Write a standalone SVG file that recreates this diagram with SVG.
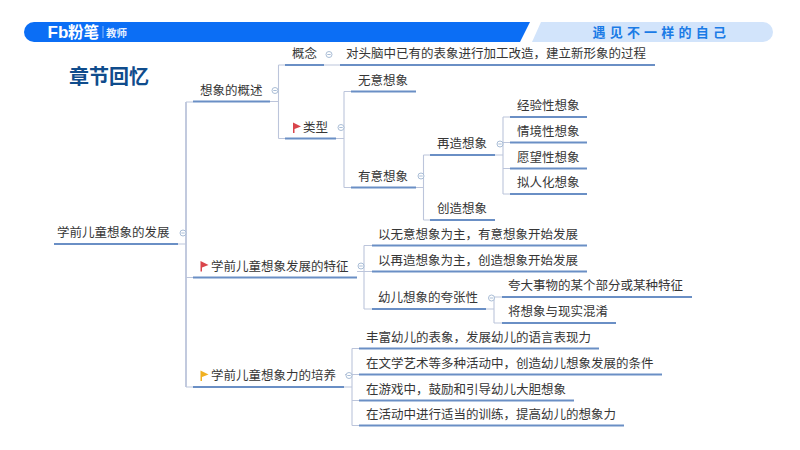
<svg xmlns="http://www.w3.org/2000/svg" width="800" height="450" viewBox="0 0 800 450">
<style>
text{font-family:"Noto Sans CJK SC","Liberation Sans",sans-serif;font-size:12.5px;fill:#363636}
.u{stroke:#6a8fc5;stroke-width:2;fill:none}
.c{stroke:#bcc5db;stroke-width:1.1;fill:none}
.t{stroke:#bcc5db;stroke-width:1.8;fill:none}
.m{fill:#fff;stroke:#a9bdd6;stroke-width:1}
.d{stroke:#a9bdd6;stroke-width:1}
</style>
<defs>
<g id="col"><circle class="m" r="3"/><line class="d" x1="-1.700" x2="1.700"/></g>
<polygon id="flag" points="0,-5 8,-1 1.500,1.500 1.500,5.500 0,5.500"/>
</defs>
<rect width="800" height="450" fill="#fff"/>
<g id="header">
<path d="M34 22H530L520 42H34A10 10 0 0 1 34 22Z" fill="#0b6ef5"/>
<path d="M541 22H763A10 10 0 0 1 763 42H532Z" fill="#d2e4fb"/>
<text x="47.500" y="38" style="font-family:'Liberation Sans',sans-serif;font-size:17px;font-weight:700;fill:#fff">Fb</text>
<text x="68" y="38" style="font-size:15.500px;font-weight:700;fill:#fff">粉笔</text>
<line x1="103" y1="26" x2="103" y2="38" stroke="#a9cbfb" stroke-width=".8"/>
<text x="106" y="36.500" style="font-size:10.500px;font-weight:700;fill:#e6f0ff">教师</text>
<text x="592.500" y="37" style="font-size:13px;font-weight:700;fill:#1a7be6;letter-spacing:4.200px">遇见不一样的自己</text>
</g>
<text id="title" x="69" y="84" style="font-size:20px;font-weight:700;fill:#0f4c8c">章节回忆</text>
<g id="connectors">
<path class="t" d="M186 102V387"/>
<path class="c" d="M178 244H186M186 102H193M186 277.500H193M186 387H193"/>
<path class="c" d="M270 101.500H278.500M278.500 65V138.500M278.500 65H285M278.500 138.500H285M324 65H340"/>
<path class="c" d="M336 138.500H344M344 91.500V187.500M344 91.500H351M344 187.500H351"/>
<path class="c" d="M416 187.500H423.500M423.500 155V220M423.500 155H430M423.500 220H430"/>
<path class="c" d="M495 155H503M503 117V194M503 117H510M503 142.500H510M503 168.500H510M503 194H510"/>
<path class="c" d="M357 271.500H364M364 245.500V309M364 245.500H372M364 271.500H372M364 309H372"/>
<path class="c" d="M486 309H494M494 297V323M494 297H502M494 323H502"/>
<path class="c" d="M344 387H352M352 348.500V425.500M352 348.500H359M345 374.500H359M352 400.500H359M352 425.500H359"/>
</g>
<g id="n-root"><text x="57" y="237.200">学前儿童想象的发展</text><line class="u" x1="54" y1="244" x2="178" y2="244"/><use href="#col" x="183" y="233"/></g>
<g id="n-overview"><text x="200" y="94.700">想象的概述</text><line class="u" x1="193" y1="101.500" x2="270" y2="101.500"/><use href="#col" x="275" y="90.500"/></g>
<g id="n-concept"><text x="292" y="58.200">概念</text><line class="u" x1="285" y1="65" x2="324" y2="65"/><use href="#col" x="329" y="54.500"/></g>
<g id="n-definition"><text x="346" y="58.200">对头脑中已有的表象进行加工改造，建立新形象的过程</text><line class="u" x1="340" y1="65" x2="655" y2="65"/></g>
<g id="n-types"><use href="#flag" x="293" y="127.500" fill="#d9454b"/><text x="303" y="131.700">类型</text><line class="u" x1="285" y1="138.500" x2="336" y2="138.500"/><use href="#col" x="341" y="127.500"/></g>
<g id="n-unintended"><text x="358" y="84.700">无意想象</text><line class="u" x1="351" y1="91.500" x2="416" y2="91.500"/></g>
<g id="n-intended"><text x="358" y="180.700">有意想象</text><line class="u" x1="351" y1="187.500" x2="416" y2="187.500"/><use href="#col" x="421" y="176"/></g>
<g id="n-recreate"><text x="437" y="148.200">再造想象</text><line class="u" x1="430" y1="155" x2="495" y2="155"/><use href="#col" x="500" y="144"/></g>
<g id="n-create"><text x="437" y="213.200">创造想象</text><line class="u" x1="430" y1="220" x2="495" y2="220"/></g>
<g id="n-exp"><text x="517" y="110.200">经验性想象</text><line class="u" x1="510" y1="117" x2="587" y2="117"/></g>
<g id="n-situ"><text x="517" y="135.700">情境性想象</text><line class="u" x1="510" y1="142.500" x2="587" y2="142.500"/></g>
<g id="n-wish"><text x="517" y="161.700">愿望性想象</text><line class="u" x1="510" y1="168.500" x2="587" y2="168.500"/></g>
<g id="n-person"><text x="517" y="187.200">拟人化想象</text><line class="u" x1="510" y1="194" x2="587" y2="194"/></g>
<g id="n-features"><use href="#flag" x="200.500" y="266" fill="#d9454b"/><text x="211" y="270.700">学前儿童想象发展的特征</text><line class="u" x1="193" y1="277.500" x2="357" y2="277.500"/><use href="#col" x="361" y="266"/></g>
<g id="n-f1"><text x="378" y="238.700">以无意想象为主，有意想象开始发展</text><line class="u" x1="372" y1="245.500" x2="587" y2="245.500"/></g>
<g id="n-f2"><text x="378" y="264.700">以再造想象为主，创造想象开始发展</text><line class="u" x1="372" y1="271.500" x2="587" y2="271.500"/></g>
<g id="n-f3"><text x="378" y="302.200">幼儿想象的夸张性</text><line class="u" x1="372" y1="309" x2="486" y2="309"/><use href="#col" x="491.500" y="298"/></g>
<g id="n-f31"><text x="508" y="290.200">夸大事物的某个部分或某种特征</text><line class="u" x1="502" y1="297" x2="692" y2="297"/></g>
<g id="n-f32"><text x="508" y="316.200">将想象与现实混淆</text><line class="u" x1="502" y1="323" x2="616" y2="323"/></g>
<g id="n-nurture"><use href="#flag" x="200.500" y="375.500" fill="#f0b020"/><text x="211" y="380.200">学前儿童想象力的培养</text><line class="u" x1="193" y1="387" x2="344" y2="387"/><use href="#col" x="349" y="375.500"/></g>
<g id="n-n1"><text x="366" y="341.700">丰富幼儿的表象，发展幼儿的语言表现力</text><line class="u" x1="359" y1="348.500" x2="599" y2="348.500"/></g>
<g id="n-n2"><text x="366" y="367.700">在文学艺术等多种活动中，创造幼儿想象发展的条件</text><line class="u" x1="359" y1="374.500" x2="662" y2="374.500"/></g>
<g id="n-n3"><text x="366" y="393.700">在游戏中，鼓励和引导幼儿大胆想象</text><line class="u" x1="359" y1="400.500" x2="574" y2="400.500"/></g>
<g id="n-n4"><text x="366" y="418.700">在活动中进行适当的训练，提高幼儿的想象力</text><line class="u" x1="359" y1="425.500" x2="624" y2="425.500"/></g>
</svg>
